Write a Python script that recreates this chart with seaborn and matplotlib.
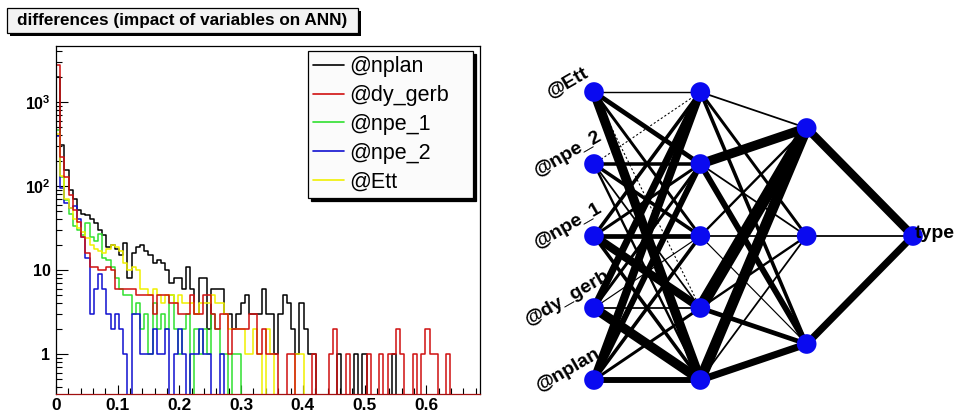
import numpy as np
import pandas as pd
import matplotlib
matplotlib.use("Agg")
import matplotlib.pyplot as plt
import seaborn as sns
from matplotlib.patches import Rectangle
from matplotlib.lines import Line2D
from matplotlib.ticker import LogLocator, NullFormatter, MultipleLocator

sns.set_style("ticks")
plt.rcParams["font.family"] = ["Liberation Sans", "DejaVu Sans"]
plt.rcParams["mathtext.fontset"] = "custom"
plt.rcParams["mathtext.rm"] = "Liberation Sans"
plt.rcParams["mathtext.bf"] = "Liberation Sans:bold"
plt.rcParams["axes.edgecolor"] = "black"
plt.rcParams["xtick.color"] = "black"
plt.rcParams["ytick.color"] = "black"
plt.rcParams["text.color"] = "black"

# ---------------- data: histogram of differences (100 bins, 0 .. 0.68) ----------------
title = "differences (impact of variables on ANN)"
variables = ["@nplan", "@dy_gerb", "@npe_1", "@npe_2", "@Ett"]
n_bins = 100
x_max = 0.68

nplan = [2000, 310, 155, 90, 70, 52, 47, 45, 40, 36,
         30, 26, 19, 20, 18, 15, 21, 8, 16, 19,
         20, 17, 15, 12, 13, 12, 10, 7, 8, 8,
         6, 11, 6, 3, 8, 8, 2, 6, 6, 6,
         3, 3, 2, 3, 4, 5, 3, 3, 3, 6,
         3, 3, 1, 3, 5, 4, 2, 1, 4, 2,
         1, 1, 0, 0, 0, 0, 0, 1, 0, 0,
         0, 1, 0, 1, 0, 0, 0, 0, 0, 0,
         1, 0, 0, 0, 0, 0, 0, 0, 0, 0,
         0, 0, 0, 0, 0, 0, 0, 0, 0, 0]
dy_gerb = [2750, 224, 129, 78, 52, 37, 25, 16, 11, 11,
           10, 10, 11, 10, 6, 6, 6, 6, 6, 5,
           5, 5, 5, 3, 5, 5, 5, 4, 4, 3,
           3, 3, 5, 3, 3, 5, 5, 3, 2, 3,
           3, 1, 2, 2, 2, 2, 3, 3, 1, 2,
           1, 1, 1, 0, 0, 1, 1, 0, 0, 0,
           0, 1, 0, 0, 0, 1, 2, 0, 0, 1,
           0, 0, 0, 0, 1, 0, 0, 1, 0, 1,
           1, 2, 1, 0, 0, 1, 0, 1, 2, 1,
           1, 0, 0, 1, 0, 0, 0, 0, 0, 0]
npe_1 = [460, 129, 68, 47, 33, 30, 26, 36, 25, 22,
         27, 14, 13, 11, 8, 6, 5, 5, 3, 4,
         2, 3, 1, 4, 2, 3, 2, 5, 2, 1,
         2, 3, 0, 2, 1, 2, 1, 3, 2, 1,
         1, 0, 1, 1, 0, 0, 0, 0, 0, 0,
         0, 0, 0, 0, 0, 0, 0, 0, 0, 0,
         0, 0, 0, 0, 0, 0, 0, 0, 0, 0,
         0, 0, 0, 0, 0, 0, 0, 0, 0, 0,
         0, 0, 0, 0, 0, 0, 0, 0, 0, 0,
         0, 0, 0, 0, 0, 0, 0, 0, 0, 0]
npe_2 = [390, 95, 62, 54, 57, 40, 25, 14, 3, 6,
         9, 6, 3, 2, 3, 2, 1, 0, 3, 3,
         1, 1, 1, 2, 1, 1, 2, 0, 1, 2,
         1, 0, 1, 1, 2, 1, 1, 0, 0, 1,
         0, 0, 0, 0, 0, 0, 0, 0, 0, 0,
         0, 0, 0, 0, 0, 0, 0, 0, 0, 0,
         0, 0, 0, 0, 0, 0, 0, 0, 0, 0,
         0, 0, 0, 0, 0, 0, 0, 0, 0, 0,
         0, 0, 0, 0, 0, 0, 0, 0, 0, 0,
         0, 0, 0, 0, 0, 0, 0, 0, 0, 0]
Ett = [420, 130, 70, 55, 40, 32, 28, 24, 20, 18,
       17, 16, 18, 20, 19, 17, 12, 10, 11, 10,
       6, 6, 5, 6, 5, 4, 5, 5, 4, 5,
       4, 4, 4, 3, 4, 4, 4, 5, 4, 4,
       3, 2, 2, 2, 2, 1, 1, 2, 1, 0,
       2, 1, 0, 0, 0, 0, 0, 1, 1, 0,
       0, 0, 0, 0, 0, 0, 0, 0, 0, 0,
       0, 0, 0, 0, 0, 0, 0, 0, 0, 0,
       0, 0, 0, 0, 0, 0, 0, 0, 0, 0,
       0, 0, 0, 0, 0, 0, 0, 0, 0, 0]

x_ticks = [0, 0.1, 0.2, 0.3, 0.4, 0.5, 0.6]
x_tick_labels = ["0", "0.1", "0.2", "0.3", "0.4", "0.5", "0.6"]
y_ticks = [1, 10, 100, 1000]
y_tick_labels = ["1", "10", r"$\mathbf{10^{2}}$", r"$\mathbf{10^{3}}$"]

# ---------------- data: network (synapse weight magnitudes, 0 = tiny/dotted) ----------------
input_names = ["@nplan", "@dy_gerb", "@npe_1", "@npe_2", "@Ett"]   # bottom to top
output_name = "type"
layer_sizes = [5, 5, 3, 1]
w_input_hidden1 = [[5, 2.5, 3, 5, 7],
                   [8, 1.5, 1, 2.5, 6],
                   [3, 7, 4, 2.5, 3],
                   [2, 1.5, 3, 3, 0],
                   [8, 0, 2.5, 4, 1.2]]
w_hidden1_hidden2 = [[6, 1.5, 9],
                     [4, 2, 10],
                     [1, 1.5, 2],
                     [5, 1.5, 8],
                     [3, 2.5, 1.5]]
w_hidden2_output = [[6], [1.5], [7]]

# ---------------- figure ----------------
W, H = 957, 415
fig = plt.figure(figsize=(W / 100, H / 100), dpi=100)
fig.patch.set_facecolor("white")


def px_rect(l, t, r, b):
    return [l / W, 1 - b / H, (r - l) / W, (b - t) / H]


ax = fig.add_axes(px_rect(56, 46, 480, 394))
ax.set_facecolor("white")

edges = np.linspace(0, x_max, n_bins + 1)
centers = 0.5 * (edges[:-1] + edges[1:])
series = {"@nplan": nplan, "@dy_gerb": dy_gerb, "@npe_1": npe_1, "@npe_2": npe_2, "@Ett": Ett}
colors = {"@nplan": "#000000", "@dy_gerb": "#d01010", "@npe_1": "#30e030",
          "@npe_2": "#1010d0", "@Ett": "#f0f000"}
draw_order = ["@nplan", "@npe_1", "@npe_2", "@Ett", "@dy_gerb"]
for name in draw_order:
    df = pd.DataFrame({"x": centers, "n": series[name]})
    sns.histplot(data=df, x="x", weights="n", bins=n_bins, binrange=(0, x_max),
                 element="step", fill=False, color=colors[name], linewidth=1.1, ax=ax)

ax.set_yscale("log")
ax.set_xlim(0, 0.687)
ax.set_ylim(0.334, 4640)
ax.set_xlabel("")
ax.set_ylabel("")
ax.set_xticks(x_ticks)
ax.set_xticklabels(x_tick_labels, fontweight="bold", fontsize=12.5)
ax.xaxis.set_minor_locator(MultipleLocator(0.02))
ax.set_yticks(y_ticks)
ax.set_yticklabels(y_tick_labels, fontweight="bold", fontsize=11.5)
ax.yaxis.set_minor_locator(LogLocator(base=10, subs=np.arange(2, 10)))
ax.yaxis.set_minor_formatter(NullFormatter())
ax.tick_params(axis="x", which="major", direction="in", length=6.5, width=0.8, pad=3)
ax.tick_params(axis="x", which="minor", direction="in", length=4, width=0.8)
ax.tick_params(axis="y", which="major", direction="in", length=8.5, width=0.8, pad=4)
ax.tick_params(axis="y", which="minor", direction="in", length=4.5, width=0.8)
for s in ax.spines.values():
    s.set_linewidth(0.9)
    s.set_color("black")
ax.spines["bottom"].set_color("#a01010")

handles = [Line2D([], [], color=colors[n], lw=1.2) for n in variables]
leg = ax.legend(handles, variables, loc="upper left",
                bbox_to_anchor=(308 / W, 1 - 197 / H, 165 / W, 146 / H),
                bbox_transform=fig.transFigure, mode="expand",
                frameon=True, fancybox=False,
                shadow={"facecolor": "black", "edgecolor": "black", "alpha": 1.0},
                fontsize=15.5, handlelength=1.4, handletextpad=0.25,
                labelspacing=0.36, borderpad=0.25, borderaxespad=0)
leg.get_frame().set_edgecolor("black")
leg.get_frame().set_linewidth(0.9)
leg.get_frame().set_facecolor("#fbfbfb")

# title pave
fig.add_artist(Rectangle((10 / W, 1 - 36 / H), 351 / W, 25 / H, transform=fig.transFigure,
                         facecolor="black", edgecolor="none"))
fig.add_artist(Rectangle((7 / W, 1 - 33 / H), 351 / W, 25 / H, transform=fig.transFigure,
                         facecolor="#f3f3f3", edgecolor="black", linewidth=0.9))
fig.text(182.5 / W, 1 - 21 / H, title, ha="center", va="center",
         fontsize=12.3, fontweight="bold")

# ---------------- network ----------------
ax2 = fig.add_axes([490 / W, 0, (957 - 490) / W, 1])
ax2.set_axis_off()
dx = 106.33
ax2.set_xlim((490 - 594) / dx, (957 - 594) / dx)
ax2.set_ylim((452 - 415) / 432, 452 / 432)


def layer_y(n):
    return [(j + 1) / (n + 1) for j in range(n)]


ys = [layer_y(n) for n in layer_sizes]
weights = [w_input_hidden1, w_hidden1_hidden2, w_hidden2_output]
for li, wm in enumerate(weights):
    for j, row in enumerate(wm):
        for k, w in enumerate(row):
            ax2.plot([li, li + 1], [ys[li][j], ys[li + 1][k]], color="black",
                     lw=max(w, 0.9) * 0.85, ls=(0, (2, 2)) if w == 0 else "-",
                     solid_capstyle="butt", zorder=1)

node_df = pd.DataFrame({"layer": [li for li, n in enumerate(layer_sizes) for _ in range(n)],
                        "y": [y for yl in ys for y in yl]})
sns.scatterplot(data=node_df, x="layer", y="y", color="#0a0af0", s=200,
                edgecolor="none", zorder=3, ax=ax2, legend=False)

for j, name in enumerate(input_names):
    ax2.text(0 - 26 / dx, ys[0][j] + 10 / 432, name, ha="center", va="center",
             rotation=30, rotation_mode="anchor", fontsize=14, fontweight="bold", zorder=2)
ax2.text(3 + 2 / dx, 0.5 + 3 / 432, output_name, ha="left", va="center", fontsize=14,
         fontweight="bold", zorder=4)
ax2.set_xlabel("")
ax2.set_ylabel("")

fig.savefig("out.png", dpi=100)
